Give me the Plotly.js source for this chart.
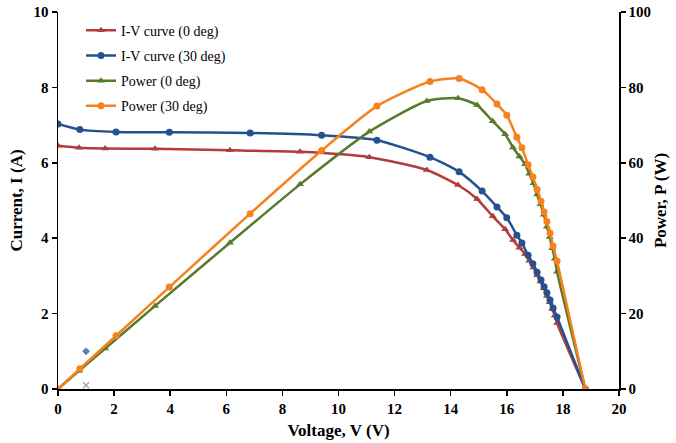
<!DOCTYPE html>
<html>
<head>
<meta charset="utf-8">
<script src="https://cdn.plot.ly/plotly-3.0.1.min.js"></script>
<style>html,body{margin:0;padding:0;background:#fff;}#chart{width:676px;height:443px;}</style>
</head>
<body>
<div id="chart"></div>
<script>
// I-V curve, 0 deg (voltage V, current A)
const v0 = [0, 0.75, 1.68, 3.46, 6.13, 8.63, 11.1, 13.15, 14.26, 14.94, 15.5, 15.94, 16.22, 16.45, 16.65, 16.8, 16.95, 17.08, 17.2, 17.32, 17.43, 17.53, 17.62, 17.71, 17.79, 18.8];
const i0 = [6.45, 6.40, 6.38, 6.37, 6.33, 6.29, 6.15, 5.81, 5.41, 5.04, 4.58, 4.24, 3.95, 3.75, 3.58, 3.40, 3.22, 3.02, 2.85, 2.67, 2.47, 2.30, 2.12, 1.95, 1.75, 0];
// Power, 0 deg (W)
const p0 = [0, 4.80, 10.72, 22.04, 38.80, 54.28, 68.27, 76.40, 77.15, 75.30, 70.99, 67.59, 64.07, 61.69, 59.61, 57.12, 54.58, 51.58, 49.02, 46.24, 43.05, 40.32, 37.35, 34.53, 31.13, 0];
// I-V curve, 30 deg
const v30 = [0, 0.78, 2.07, 3.97, 6.85, 9.4, 11.37, 13.26, 14.3, 15.12, 15.65, 16.0, 16.36, 16.54, 16.76, 16.93, 17.08, 17.22, 17.33, 17.43, 17.54, 17.65, 17.79, 18.8];
const i30 = [7.03, 6.88, 6.82, 6.81, 6.79, 6.73, 6.60, 6.15, 5.76, 5.25, 4.83, 4.54, 4.08, 3.87, 3.55, 3.32, 3.10, 2.89, 2.71, 2.55, 2.36, 2.15, 1.91, 0];
// Power, 30 deg (W)
const p30 = [0, 5.37, 14.12, 27.04, 46.51, 63.26, 75.04, 81.55, 82.37, 79.38, 75.59, 72.64, 66.75, 64.01, 59.50, 56.21, 52.95, 49.77, 46.96, 44.45, 41.39, 37.95, 33.98, 0];
// stray points near origin
const strayDiamondX = [1.0], strayDiamondY = [1.0];
const strayCrossX = [1.0], strayCrossY = [0.1];

const names = ['I-V curve (0 deg)', 'I-V curve (30 deg)', 'Power (0 deg)', 'Power (30 deg)'];
const cRed = '#b23b3b', cBlue = '#25518f', cGreen = '#577a2c', cOrange = '#f5821f';

function tr(x, y, name, color, sym, axis, grp) {
  return {
    x: x, y: y, name: name, type: 'scatter', mode: 'lines+markers', yaxis: axis,
    legendgroup: grp,
    line: {color: color, width: 2.5, shape: 'spline', smoothing: 0.6},
    marker: {color: color, symbol: sym, size: 7}
  };
}

const data = [
  tr(v0, i0, names[0], cRed, 'triangle-up', 'y', 'a'),
  tr(v30, i30, names[1], cBlue, 'circle', 'y', 'b'),
  tr(v0, p0, names[2], cGreen, 'triangle-up', 'y2', 'c'),
  tr(v30, p30, names[3], cOrange, 'circle', 'y2', 'd'),
  {x: strayDiamondX, y: strayDiamondY, type: 'scatter', mode: 'markers', showlegend: false,
   marker: {symbol: 'diamond', size: 6, color: '#4f81bd'}},
  {x: strayCrossX, y: strayCrossY, type: 'scatter', mode: 'markers', showlegend: false,
   marker: {symbol: 'x-thin-open', size: 6, color: '#a0a0a0', line: {width: 1.2, color: '#a0a0a0'}}}
];

const SERIF = 'Liberation Serif';
const tickFont = {family: SERIF, size: 15, color: '#000', weight: 'bold'};
const titleFont = {family: SERIF, size: 17, color: '#000', weight: 'bold'};

const layout = {
  width: 676, height: 443,
  margin: {l: 58, r: 57, t: 12, b: 54},
  paper_bgcolor: '#fff', plot_bgcolor: '#fff',
  font: {family: SERIF},
  showlegend: true,
  legend: {x: 0.041, y: 0.993, xanchor: 'left', yanchor: 'top', bgcolor: 'rgba(0,0,0,0)',
           font: {family: SERIF, size: 14, color: '#000'},
           tracegroupgap: 4, itemwidth: 30},
  xaxis: {range: [0, 20], dtick: 2, tick0: 0, showgrid: false, zeroline: false,
          showline: true, linecolor: '#000', linewidth: 1.5, ticks: 'outside', ticklen: 5, tickcolor: '#000', tickwidth: 1.5,
          tickfont: tickFont, title: {text: 'Voltage, V (V)', font: titleFont, standoff: 8}},
  yaxis: {range: [0, 10], dtick: 2, tick0: 0, showgrid: false, zeroline: false,
          showline: true, linecolor: '#000', linewidth: 1.5, ticks: 'outside', ticklen: 5, tickcolor: '#000', tickwidth: 1.5,
          tickfont: tickFont, title: {text: 'Current, I (A)', font: titleFont, standoff: 6}},
  yaxis2: {range: [0, 100], dtick: 20, tick0: 0, overlaying: 'y', side: 'right', showgrid: false, zeroline: false,
          showline: true, linecolor: '#000', linewidth: 1.5, ticks: 'outside', ticklen: 5, tickcolor: '#000', tickwidth: 1.5,
          tickfont: tickFont, title: {text: 'Power, P (W)', font: titleFont, standoff: 4}}
};

Plotly.newPlot('chart', data, layout, {displayModeBar: false, staticPlot: true});
</script>
</body>
</html>
